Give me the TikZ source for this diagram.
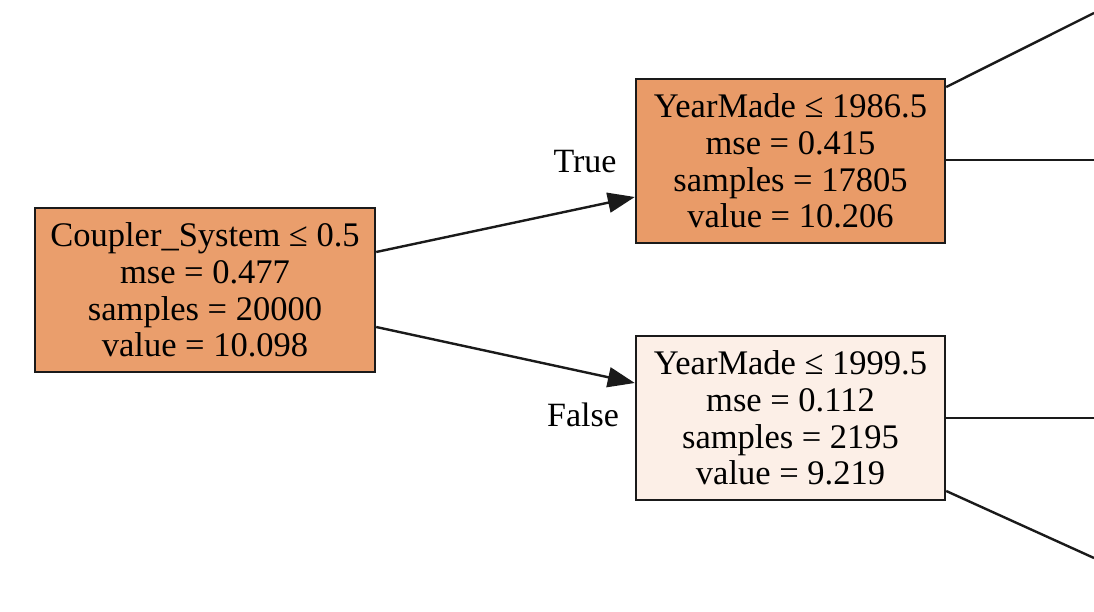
\documentclass[tikz,border=0pt]{standalone}
\usepackage{fontspec}
\setmainfont{Liberation Serif}
\usetikzlibrary{arrows.meta,calc}
\definecolor{rootfill}{HTML}{EA9E6C}
\definecolor{topfill}{HTML}{E99B68}
\definecolor{botfill}{HTML}{FCEFE7}
\definecolor{edgecol}{HTML}{1A1A1A}
\tikzset{
  treenode/.style={draw=edgecol, line width=2.4pt, rectangle, inner sep=0pt,
    align=center, font=\fontsize{34.5}{36.8}\selectfont, text=black},
  edgeline/.style={draw=edgecol, line width=2.4pt},
  arrowline/.style={edgeline, -{Triangle[length=27pt,width=20pt]}},
  edgelabel/.style={font=\fontsize{34}{36}\selectfont, inner sep=0pt}
}
\begin{document}
\begin{tikzpicture}[x=1pt,y=-1pt]
\useasboundingbox (0,0) rectangle (1094,612);
\fill[white] (0,0) rectangle (1094,612);
\node[treenode, fill=rootfill, minimum width=340pt, minimum height=164pt] (root) at (205,290)
  {Coupler\_System ≤ 0.5\\mse = 0.477\\samples = 20000\\value = 10.098};
\node[treenode, fill=topfill, minimum width=309pt, minimum height=164pt] (top) at (790.5,161)
  {YearMade ≤ 1986.5\\mse = 0.415\\samples = 17805\\value = 10.206};
\node[treenode, fill=botfill, minimum width=309pt, minimum height=164pt] (bot) at (790.5,418)
  {YearMade ≤ 1999.5\\mse = 0.112\\samples = 2195\\value = 9.219};
\node[edgelabel] (truelbl) at (585,162) {True};
\node[edgelabel] (falselbl) at (583,415) {False};
\coordinate (e1) at (1094,13);
\coordinate (e2) at (1094,160);
\coordinate (e3) at (1094,418);
\coordinate (e4) at (1094,558);
\draw[arrowline] ($(root.east)+(0,-38)$) -- ($(top.west)+(0,36)$);
\draw[arrowline] ($(root.east)+(0,37)$) -- ($(bot.west)+(0,-35)$);
\draw[edgeline] ($(top.east)+(0,-74)$) -- (e1);
\draw[edgeline] ($(top.east)+(0,-1)$) -- (e2);
\draw[edgeline] (bot.east) -- (e3);
\draw[edgeline] ($(bot.east)+(0,73)$) -- (e4);
\end{tikzpicture}
\end{document}
